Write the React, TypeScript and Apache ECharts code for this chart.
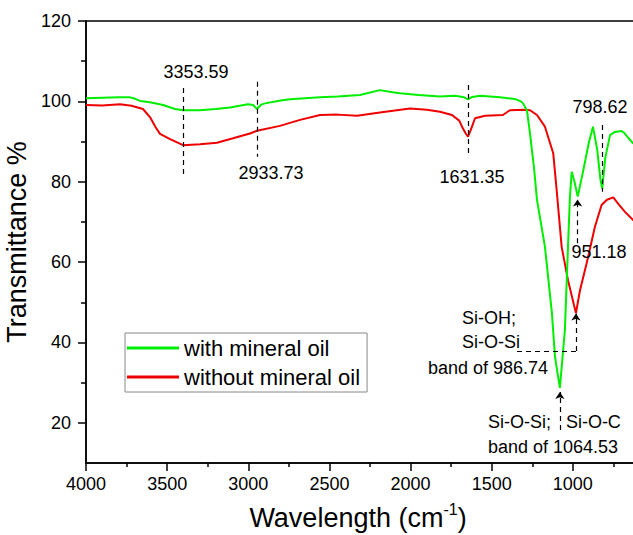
import React, { useEffect, useRef } from "react";
import * as echarts from "echarts";

// ---- data ----
const withOilWave = [4000, 3900, 3800, 3729, 3700, 3667, 3606, 3525, 3452, 3400, 3300, 3200, 3113, 3002, 2970, 2947, 2920, 2897, 2800, 2743, 2650, 2558, 2450, 2312, 2189, 2100, 2065, 1950, 1819, 1726, 1670, 1646, 1620, 1572, 1449, 1357, 1320, 1307, 1283, 1264, 1240, 1221, 1172, 1129, 1110, 1080, 1049, 1030, 1018, 1007, 990, 970, 940, 900, 876, 850, 830, 819, 800, 771, 741, 700, 685, 660, 630, 600];
const withOilT = [100.8, 100.9, 101.0, 101.0, 100.7, 100.1, 99.8, 99.1, 98.1, 97.8, 97.8, 98.1, 98.5, 99.3, 99.1, 98.1, 99.2, 99.5, 100.2, 100.5, 100.8, 101.0, 101.2, 101.6, 102.8, 102.2, 102.0, 101.6, 101.2, 101.4, 101.0, 100.5, 101.1, 101.4, 101.0, 100.6, 100.0, 99.5, 97.8, 92.0, 83.7, 75.5, 63.8, 47.3, 36.4, 28.7, 43.1, 63.8, 76.2, 82.5, 80.0, 76.3, 82.0, 90.0, 93.7, 88.0, 80.5, 78.3, 86.0, 91.6, 92.4, 92.6, 92.2, 91.0, 89.6, 89.0];

const withoutOilWave = [4000, 3900, 3790, 3720, 3649, 3606, 3570, 3544, 3482, 3402, 3298, 3193, 3094, 2990, 2946, 2805, 2681, 2558, 2450, 2330, 2189, 2004, 1900, 1819, 1745, 1700, 1683, 1660, 1646, 1630, 1603, 1541, 1431, 1388, 1300, 1264, 1221, 1172, 1121, 1100, 1069, 1030, 981, 956, 915, 864, 823, 790, 751, 720, 679, 630, 600];
const withoutOilT = [99.1, 99.0, 99.3, 98.9, 98.1, 96.1, 93.5, 91.9, 90.6, 89.1, 89.3, 89.7, 90.8, 92.0, 92.7, 93.9, 95.4, 96.6, 96.7, 96.4, 97.2, 98.2, 97.9, 97.4, 96.6, 95.2, 93.7, 92.0, 91.2, 92.8, 95.8, 96.4, 96.6, 97.8, 97.9, 97.8, 96.6, 93.7, 87.1, 78.0, 63.8, 55.5, 47.3, 53.0, 59.7, 68.8, 74.2, 75.5, 76.1, 74.5, 72.5, 70.5, 69.5];

const seriesNames = ["with mineral oil", "without mineral oil"];
const xLabelValues = [1000, 1500, 2000, 2500, 3000, 3500, 4000];
const yLabelValues = [20, 40, 60, 80, 100, 120];
const yMinorValues = [30, 50, 70, 90, 110];

// annotation texts: [wavenumber, transmittance, text, align]
const annotTexts: [number, number, string, string][] = [
  [3322, 107.3, "3353.59", "center"],
  [2860, 82.2, "2933.73", "center"],
  [1622, 81.3, "1631.35", "center"],
  [833, 98.7, "798.62", "center"],
  [839, 62.5, "951.18", "center"],
  [1683, 46.1, "Si-OH;", "left"],
  [1683, 40.1, "Si-O-Si", "left"],
  [1893, 33.6, "band of 986.74", "left"],
  [1523, 20.2, "Si-O-Si;", "left"],
  [1043, 20.2, "Si-O-C", "left"],
  [1523, 14.0, "band of 1064.53", "left"],
];

// dashed guide lines: [x1, y1, x2, y2, arrowAtEnd]
const annotLines: [number, number, number, number, boolean][] = [
  [3400, 103.3, 3400, 81.4, false],
  [2946, 104.9, 2946, 86.2, false],
  [1644, 104.1, 1644, 87.1, false],
  [816, 94.1, 816, 77.5, false],
  [971, 64.7, 971, 75.6, true],
  [1344, 37.9, 981, 37.9, false],
  [981, 37.9, 981, 47.2, true],
  [1080, 18.2, 1080, 27.7, true],
];

const FONT = "'Liberation Sans', Arial, sans-serif";

export default function App() {
  const ref = useRef<HTMLDivElement>(null);
  useEffect(() => {
    document.body.style.margin = "0";
    const chart = echarts.init(ref.current!, null, { renderer: "svg" });
    const zip = (a: number[], b: number[]) => a.map((v, i) => [v, b[i]]);
    const option: any = {
      animation: false,
      backgroundColor: "#fff",
      textStyle: { fontFamily: FONT },
      grid: [
        { left: 86, top: 21, right: -21, bottom: 72, show: true, borderColor: "#000", borderWidth: 1.5, containLabel: false, outerBoundsMode: "none" },
        { left: 86, top: 21, right: -21, bottom: 72, show: false, containLabel: false, outerBoundsMode: "none" },
      ],
      legend: {
        data: seriesNames,
        orient: "vertical",
        left: 125,
        top: 333,
        icon: "rect",
        itemWidth: 52,
        itemHeight: 3,
        itemGap: 7,
        padding: [4, 7, 4, 2],
        borderColor: "#888",
        borderWidth: 1,
        textStyle: { fontSize: 22, color: "#000", fontFamily: FONT },
      },
      xAxis: [
        {
          type: "value",
          gridIndex: 0,
          inverse: true,
          min: 500,
          max: 4000,
          interval: 500,
          axisLine: { show: true, lineStyle: { color: "#000", width: 1.5 } },
          axisTick: { show: true, length: 8, lineStyle: { color: "#000", width: 1.5 } },
          minorTick: { show: true, splitNumber: 2, length: 4, lineStyle: { color: "#000", width: 1.5 } },
          axisLabel: { customValues: xLabelValues, fontSize: 18, color: "#000", margin: 12, fontFamily: FONT, formatter: (v: number) => String(v) },
          splitLine: { show: false },
          name: "{a|Wavelength (cm}{s|-1}{a|)}",
          nameLocation: "middle",
          nameGap: 38,
          nameTextStyle: {
            padding: [0, 24, 0, 0],
            rich: {
              a: { fontSize: 27, color: "#000", fontFamily: FONT, lineHeight: 30, verticalAlign: "bottom" },
              s: { fontSize: 16, color: "#000", fontFamily: FONT, lineHeight: 16, verticalAlign: "top" },
            },
          },
        },
        {
          type: "value",
          gridIndex: 1,
          inverse: true,
          min: 500,
          max: 4000,
          show: false,
        },
      ],
      yAxis: [
        {
          type: "value",
          gridIndex: 0,
          min: 10,
          max: 120,
          interval: 10,
          axisLine: { show: true, lineStyle: { color: "#000", width: 1.5 } },
          axisTick: { show: true, length: 8, customValues: yLabelValues, lineStyle: { color: "#000", width: 1.5 } },
          axisLabel: { customValues: yLabelValues, fontSize: 18, color: "#000", margin: 15, fontFamily: FONT },
          splitLine: { show: false },
          name: "Transmittance %",
          nameLocation: "middle",
          nameGap: 48,
          nameTextStyle: { fontSize: 27, color: "#000", fontFamily: FONT },
        },
        {
          type: "value",
          gridIndex: 1,
          min: 10,
          max: 120,
          axisLine: { show: false },
          axisTick: { show: true, length: 5, customValues: yMinorValues, lineStyle: { color: "#000", width: 1.5 } },
          axisLabel: { show: false },
          splitLine: { show: false },
        },
      ],
      series: [
        {
          name: seriesNames[0],
          type: "line",
          data: zip(withOilWave, withOilT),
          showSymbol: false,
          lineStyle: { color: "#00ee00", width: 2 },
          itemStyle: { color: "#00ee00" },
          z: 3,
        },
        {
          name: seriesNames[1],
          type: "line",
          data: zip(withoutOilWave, withoutOilT),
          showSymbol: false,
          lineStyle: { color: "#ee0000", width: 2 },
          itemStyle: { color: "#ee0000" },
          z: 2,
        },
        {
          name: "annotations",
          type: "scatter",
          symbolSize: 0,
          silent: true,
          z: 5,
          itemStyle: { opacity: 1 },
          data: annotTexts.map(([w, t, txt, al]) => ({
            value: [w, t],
            label: {
              show: true,
              position: "inside",
              formatter: txt,
              align: al,
              verticalAlign: "middle",
              fontSize: 18,
              color: "#000",
              opacity: 1,
              fontFamily: FONT,
            },
          })),
          markLine: {
            silent: true,
            symbol: ["none", "none"],
            symbolSize: 7,
            label: { show: false },
            lineStyle: { color: "#000", type: [5, 4], width: 1.2, opacity: 1 },
            emphasis: { disabled: true },
            data: annotLines.map(([x1, y1, x2, y2, arr]) => [
              { coord: [x1, y1], symbol: "none" },
              { coord: [x2, y2], symbol: arr ? "arrow" : "none", symbolSize: 7 },
            ]),
          },
        },
      ],
    };
    chart.setOption(option);
    return () => chart.dispose();
  }, []);
  return <div ref={ref} style={{ position: "absolute", left: 0, top: 0, width: 633, height: 535 }} />;
}
